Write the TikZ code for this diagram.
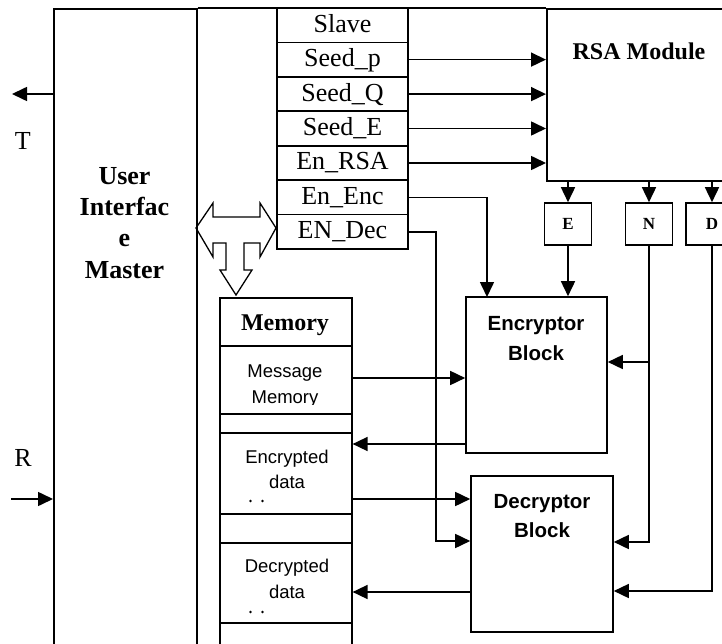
\documentclass[tikz,border=0pt]{standalone}
\usepackage{fontspec}
\setmainfont{Liberation Serif}
\setsansfont{Liberation Sans}
\usetikzlibrary{arrows.meta}
\tikzset{
 ln/.style={line width=1.6pt},
 arr/.style={ln, -{Triangle[length=15pt,width=14pt]}},
 box/.style={draw, ln, inner sep=0pt},
 regcell/.style={box, minimum width=131pt, minimum height=34.43pt, font=\fontsize{26}{30}\selectfont, text height=19pt, text depth=5pt},
 keybox/.style={box, minimum width=47pt, minimum height=42pt, font=\bfseries\fontsize{17}{19}\selectfont},
 memcell/.style={box, minimum width=132pt, anchor=north west},
 sanslbl/.style={anchor=base, inner sep=0pt, font=\sffamily\fontsize{18.5}{22}\selectfont},
 blklbl/.style={anchor=base, inner sep=0pt, font=\sffamily\bfseries\fontsize{20.5}{24}\selectfont},
 serbold/.style={anchor=base, inner sep=0pt, font=\bfseries\fontsize{26}{30}\selectfont},
 serreg/.style={anchor=base, inner sep=0pt, font=\fontsize{26}{30}\selectfont},
}
\begin{document}
\begin{tikzpicture}[x=1pt,y=-1pt]
\useasboundingbox (0,0) rectangle (722,644);
\clip (0,0) rectangle (722,644);

% user interface master
\node[box, anchor=north west, minimum width=143pt, minimum height=660pt] (ui) at (53,8) {};
\node[serbold] (ui1) at (124.5,185) {User};
\node[serbold] (ui2) at (124.5,215) {Interfac};
\node[serbold] (ui3) at (124.5,247) {e};
\node[serbold] (ui4) at (124.5,278) {Master};

% RSA module
\node[box, anchor=north west, minimum width=188pt, minimum height=172pt] (rsa) at (546,8) {};
\node[serbold, font=\bfseries\fontsize{24}{28}\selectfont] (rsal) at (639,60) {RSA Module};
\draw[ln] (ui.north east) -- (rsa.north west);

% slave register
\node[regcell] (sl) at (342.5,25.2) {Slave};
\node[regcell] (sp) at (342.5,59.6) {Seed\_p};
\node[regcell] (sq) at (342.5,94.1) {Seed\_Q};
\node[regcell] (se) at (342.5,128.5) {Seed\_E};
\node[regcell] (er) at (342.5,163.0) {En\_RSA};
\node[regcell] (ee) at (342.5,197.4) {En\_Enc};
\node[regcell] (ed) at (342.5,231.8) {EN\_Dec};

\foreach \r in {sp,sq,se,er}
  \draw[arr] (\r.east) -- (\r.east -| rsa.west);

% key boxes
\node[keybox] (kE) at (568,224) {E};
\node[keybox] (kN) at (649,224) {N};
\node[keybox, minimum width=52pt] (kD) at (712,224) {D};
\foreach \k in {kE,kN,kD}
  \draw[arr] (\k.north |- rsa.south) -- (\k.north);

% encryptor / decryptor
\node[box, minimum width=141pt, minimum height=156pt] (enc) at (536.5,375) {};
\node[blklbl] (encl1) at (536,330) {Encryptor};
\node[blklbl] (encl2) at (536,360) {Block};
\node[box, minimum width=142pt, minimum height=156pt] (dec) at (542,554) {};
\node[blklbl] (decl1) at (542,508) {Decryptor};
\node[blklbl] (decl2) at (542,537) {Block};

% memory
\node[memcell, minimum height=48pt] (mem) at (219,297) {};
\node[serbold, font=\bfseries\fontsize{24}{28}\selectfont] (meml) at (285,330) {Memory};
\node[memcell, minimum height=68pt] (msg) at (219,345) {};
\node[memcell, minimum height=19pt] (g1) at (219,413) {};
\node[memcell, minimum height=81pt] (encd) at (219,432) {};
\node[memcell, minimum height=29pt] (g2) at (219,513) {};
\node[memcell, minimum height=80pt] (decd) at (219,542) {};
\node[memcell, minimum height=48pt] (last) at (219,622) {};

\begin{scope}
\clip (219,345) rectangle (351,404);
\node[sanslbl] (msgl1) at (285,377) {Message};
\node[sanslbl] (msgl2) at (285,403) {Memory};
\end{scope}
\node[sanslbl] (encdl1) at (287,463) {Encrypted};
\node[sanslbl] (encdl2) at (287,488) {data};
\fill (250.5,501) circle (1.3pt) (262.5,501) circle (1.3pt);
\node[sanslbl] (decdl1) at (287,572) {Decrypted};
\node[sanslbl] (decdl2) at (287,598) {data};
\fill (250.5,612) circle (1.3pt) (262.5,612) circle (1.3pt);

% hollow bus arrow
\draw[ln, line width=1.3pt, line join=miter] (196,228) -- (213,203) -- (213,217) -- (260,217) -- (260,203) -- (276,228)
  -- (260,257) -- (260,243) -- (244,243) -- (244,270) -- (252,270) -- (236,295) -- (220,270)
  -- (226,270) -- (226,243) -- (213,243) -- (213,257) -- cycle;

% T and R
\coordinate (tt) at (12,94);
\draw[arr] (ui.west |- tt) -- (tt);
\node[serreg] (tl) at (22.7,150) {T};
\coordinate (rr) at (11,499);
\draw[arr] (rr) -- (rr -| ui.west);
\node[serreg] (rl) at (23,466) {R};

% control lines
\coordinate (encin) at (487,297);
\draw[arr] (ee.east) -| (encin);
\draw[arr] (kE.south) -- (kE.south |- enc.north);
\coordinate (nb) at (649,362);
\coordinate (nd) at (649,542);
\draw[arr] (kN.south) -- (nd) -- (nd -| dec.east);
\draw[arr] (nb) -- (nb -| enc.east);
\coordinate (dd) at (712,591);
\draw[arr] (kD.south) -- (dd) -- (dd -| dec.east);
\coordinate (kd) at (436,541);
\draw[arr] (ed.east) -| (kd) -- (kd -| dec.west);

% data lines
\draw[arr] (msg.east |- 0,378) -- (enc.west |- 0,378);
\coordinate (eo) at (466,444);
\draw[arr] (eo) -- (eo -| encd.east);
\coordinate (ei) at (351,499);
\draw[arr] (ei) -- (ei -| dec.west);
\coordinate (do) at (471,592);
\draw[arr] (do) -- (do -| decd.east);
\end{tikzpicture}
\end{document}
